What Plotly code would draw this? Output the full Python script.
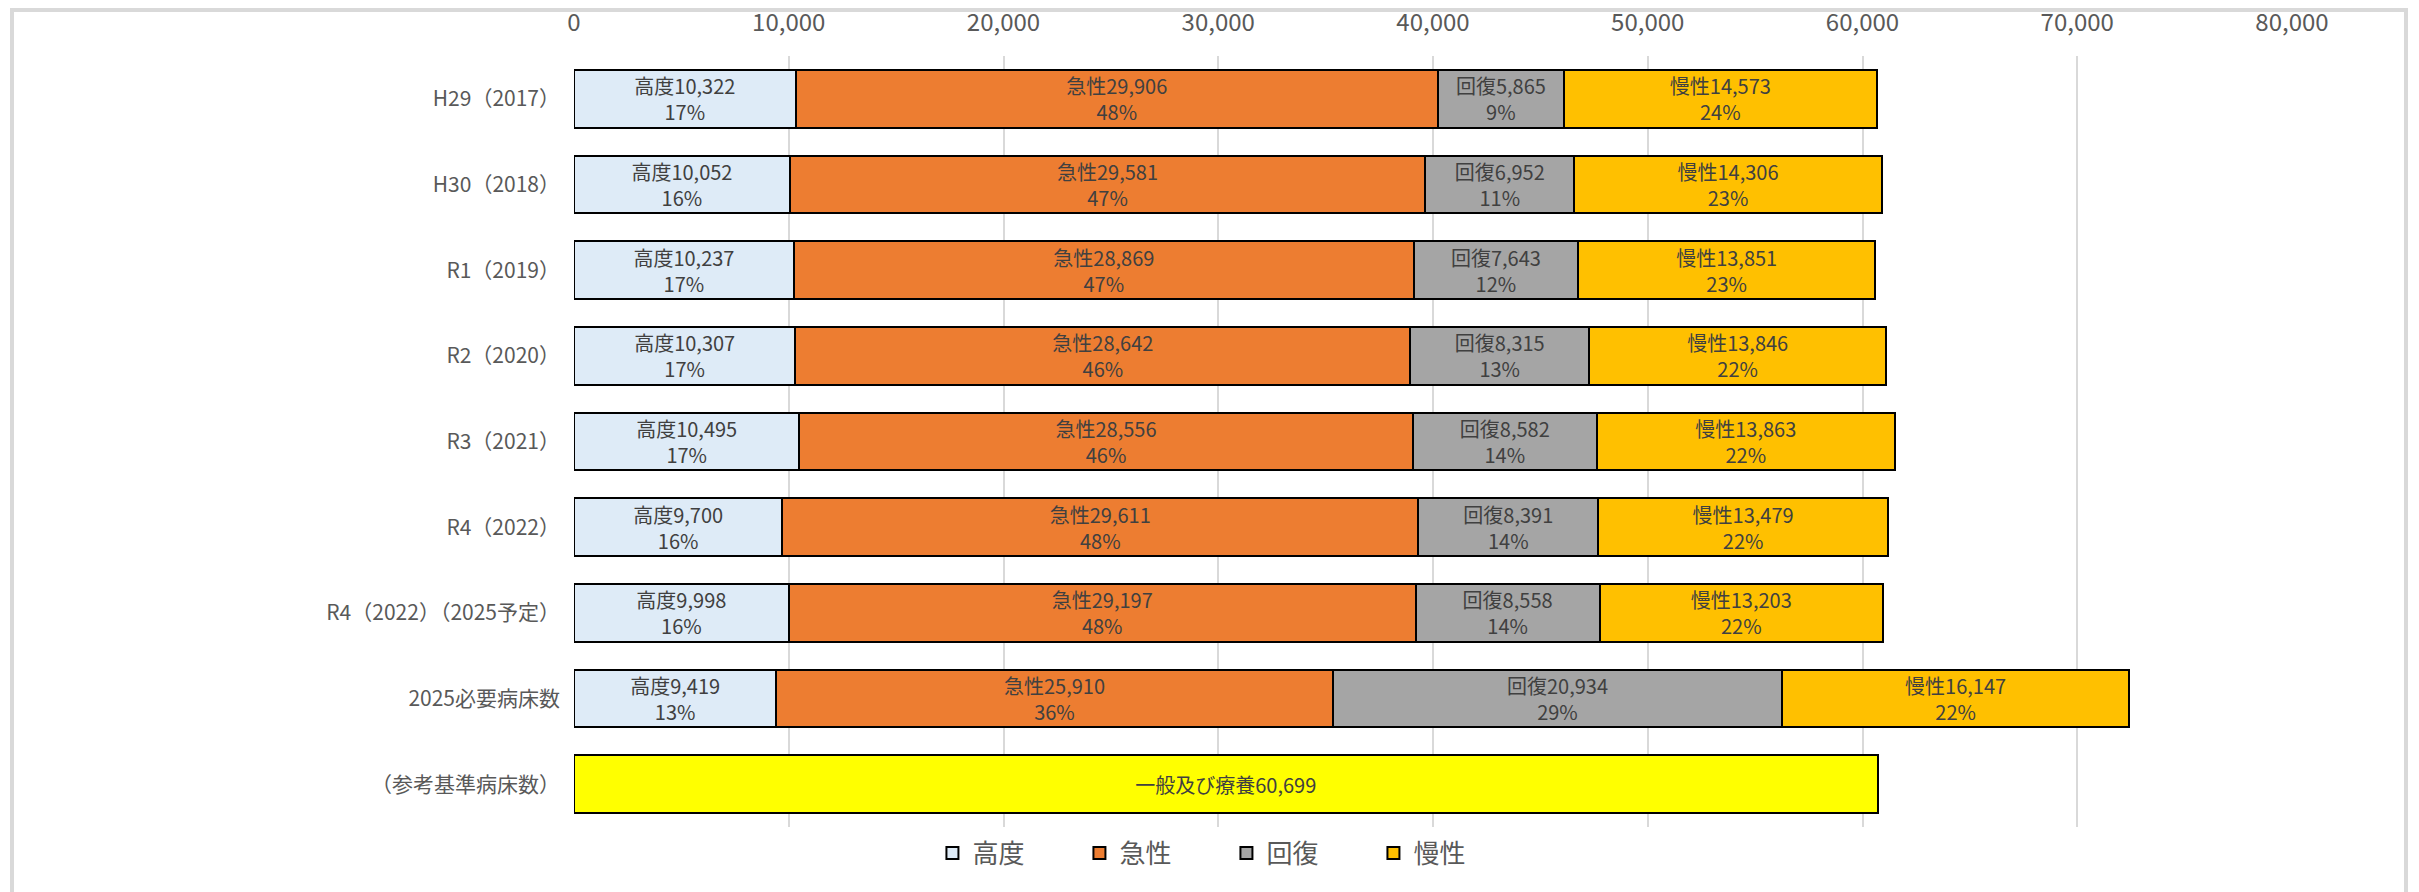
import plotly.graph_objects as go

categories = ["H29（2017）", "H30（2018）", "R1（2019）", "R2（2020）", "R3（2021）",
              "R4（2022）", "R4（2022）（2025予定）", "2025必要病床数", "（参考基準病床数）"]
series_names = ["高度", "急性", "回復", "慢性"]
kodo = [10322, 10052, 10237, 10307, 10495, 9700, 9998, 9419, None]
kyusei = [29906, 29581, 28869, 28642, 28556, 29611, 29197, 25910, None]
kaifuku = [5865, 6952, 7643, 8315, 8582, 8391, 8558, 20934, None]
mansei = [14573, 14306, 13851, 13846, 13863, 13479, 13203, 16147, None]
kodo_pct = [17, 16, 17, 17, 17, 16, 16, 13, None]
kyusei_pct = [48, 47, 47, 46, 46, 48, 48, 36, None]
kaifuku_pct = [9, 11, 12, 13, 14, 14, 14, 29, None]
mansei_pct = [24, 23, 23, 22, 22, 22, 22, 22, None]
ref_label = "一般及び療養"
ref_value = 60699
tick_vals = [0, 10000, 20000, 30000, 40000, 50000, 60000, 70000, 80000]

colors = ["#DEEBF7", "#ED7D31", "#A5A5A5", "#FFC000"]
FONT = "Noto Sans CJK JP"
TXT = "#404040"

W, H = 2419, 892
L, R_, T, B = 574, 2419 - 2292, 56, 892 - 827

fig = go.Figure()
for name, vals, pcts, col in zip(series_names, [kodo, kyusei, kaifuku, mansei],
                                 [kodo_pct, kyusei_pct, kaifuku_pct, mansei_pct], colors):
    texts = [f"{name}{v:,}<br>{p}%" if v is not None else "" for v, p in zip(vals, pcts)]
    fig.add_trace(go.Bar(
        y=categories, x=vals, name=name, orientation="h",
        marker=dict(color=col, line=dict(color="#000000", width=2)),
        text=texts, textposition="inside", insidetextanchor="middle",
        textangle=0, textfont=dict(family=FONT, size=20, color=TXT),
        hoverinfo="skip",
    ))

fig.add_trace(go.Bar(
    y=[categories[-1]], x=[ref_value], orientation="h", showlegend=False,
    marker=dict(color="#FFFF00", line=dict(color="#000000", width=2)),
    text=[f"{ref_label}{ref_value:,}"], textposition="inside", insidetextanchor="middle",
    textangle=0, textfont=dict(family=FONT, size=20, color=TXT), hoverinfo="skip",
))

plot_w = W - L - R_
plot_h = H - T - B
def px_x(p):
    return (p - L) / plot_w
def px_y(p):
    return (H - B - p) / plot_h

fig.add_shape(type="rect", xref="paper", yref="paper",
              x0=px_x(12), x1=px_x(2406), y0=px_y(910), y1=px_y(10),
              line=dict(color="#D9D9D9", width=4), fillcolor="rgba(0,0,0,0)", layer="below")

fig.update_layout(
    width=W, height=H,
    barmode="stack", bargap=0.33,
    margin=dict(l=L, r=R_, t=T, b=B),
    paper_bgcolor="white", plot_bgcolor="white",
    font=dict(family=FONT, color="#595959"),
    uniformtext=dict(minsize=20, mode="show"),
    legend=dict(orientation="h", xref="container", yref="container",
                x=0.507, xanchor="center", y=1 - 853 / 892, yanchor="middle",
                font=dict(family=FONT, size=26, color="#595959"),
                entrywidth=102, entrywidthmode="pixels", traceorder="normal",
                itemwidth=30),
    xaxis=dict(side="top", range=[0, 80000], tickvals=tick_vals,
               ticktext=[f"{v:,}" for v in tick_vals],
               showgrid=True, gridcolor="#D9D9D9", gridwidth=2,
               zeroline=False, showline=False, ticks="", automargin=False,
               ticklabelstandoff=19,
               tickfont=dict(family=FONT, size=24, color="#595959")),
    yaxis=dict(autorange="reversed", categoryorder="array", categoryarray=categories,
               showgrid=False, zeroline=False, showline=False, ticks="",
               ticklabelstandoff=13, automargin=False,
               tickfont=dict(family=FONT, size=21, color="#595959")),
)

fig.write_html("out.html", config={"displayModeBar": False},
               post_script="document.body.style.margin='0';")
